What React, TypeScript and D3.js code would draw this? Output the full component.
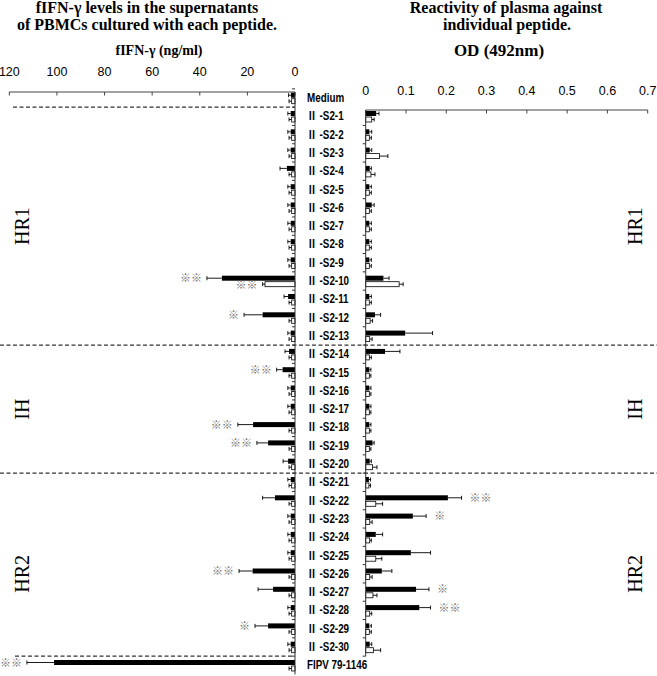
import React from "react";
import * as d3 from "d3";

const categories = [
  "Medium",
  "Ⅱ -S2-1", "Ⅱ -S2-2", "Ⅱ -S2-3", "Ⅱ -S2-4", "Ⅱ -S2-5", "Ⅱ -S2-6", "Ⅱ -S2-7", "Ⅱ -S2-8", "Ⅱ -S2-9", "Ⅱ -S2-10",
  "Ⅱ -S2-11", "Ⅱ -S2-12", "Ⅱ -S2-13", "Ⅱ -S2-14", "Ⅱ -S2-15", "Ⅱ -S2-16", "Ⅱ -S2-17", "Ⅱ -S2-18", "Ⅱ -S2-19", "Ⅱ -S2-20",
  "Ⅱ -S2-21", "Ⅱ -S2-22", "Ⅱ -S2-23", "Ⅱ -S2-24", "Ⅱ -S2-25", "Ⅱ -S2-26", "Ⅱ -S2-27", "Ⅱ -S2-28", "Ⅱ -S2-29", "Ⅱ -S2-30",
  "FIPV 79-1146",
];

// fIFN-γ (ng/ml): black = series 1, white = series 2 (mean and SD), Medium .. FIPV
const ifnBlack = [1.7, 1.8, 1.8, 1.8, 3.4, 1.8, 1.8, 1.8, 1.8, 1.8, 30.7, 2.9, 13.6, 1.8, 2.5, 5.2, 1.8, 1.8, 17.6, 11.3, 2.9, 1.8, 8.4, 1.8, 1.8, 1.8, 17.8, 9.2, 1.8, 11.3, 1.8, 101.2];
const ifnBlackSd = [1.0, 1.2, 1.2, 1.2, 2.9, 1.2, 1.2, 1.2, 1.2, 1.2, 6.3, 1.7, 7.8, 1.2, 1.7, 2.5, 1.2, 1.2, 6.4, 4.7, 2.1, 1.2, 5.2, 1.2, 1.2, 1.2, 5.7, 6.3, 1.2, 5.5, 1.2, 11.4];
const ifnWhite = [1.4, 1.4, 1.4, 1.4, 1.4, 1.4, 1.4, 1.4, 1.4, 1.4, 12.6, 1.4, 1.4, 1.4, 1.4, 1.4, 1.4, 1.4, 1.4, 1.4, 1.4, 1.4, 1.4, 1.4, 1.4, 1.4, 1.4, 1.4, 1.4, 1.4, 1.4, 1.4];
const ifnWhiteSd = [1.1, 1.1, 1.1, 1.1, 1.1, 1.1, 1.1, 1.1, 1.1, 1.1, 1.0, 1.1, 1.1, 1.1, 1.1, 1.1, 1.1, 1.1, 1.1, 1.1, 1.1, 1.1, 1.1, 1.1, 1.1, 1.1, 1.1, 1.1, 1.1, 1.1, 1.1, 1.1];
const ifnBlackSig = ["", "", "", "", "", "", "", "", "", "", "※※", "", "※", "", "", "※※", "", "", "※※", "※※", "", "", "", "", "", "", "※※", "", "", "※", "", "※※"];
const ifnWhiteSig = ["", "", "", "", "", "", "", "", "", "", "※※", "", "", "", "", "", "", "", "", "", "", "", "", "", "", "", "", "", "", "", "", ""];

// OD (492nm): Ⅱ-S2-1 .. Ⅱ-S2-30
const odBlack = [0.026, 0.009, 0.010, 0.010, 0.009, 0.015, 0.009, 0.009, 0.009, 0.044, 0.009, 0.023, 0.098, 0.048, 0.009, 0.009, 0.009, 0.009, 0.017, 0.010, 0.008, 0.204, 0.117, 0.025, 0.112, 0.040, 0.125, 0.133, 0.009, 0.010];
const odBlackSd = [0.007, 0.006, 0.005, 0.004, 0.005, 0.006, 0.005, 0.005, 0.005, 0.014, 0.005, 0.014, 0.068, 0.037, 0.004, 0.004, 0.004, 0.004, 0.004, 0.004, 0.004, 0.034, 0.033, 0.017, 0.049, 0.025, 0.032, 0.028, 0.005, 0.005];
const odWhite = [0.015, 0.009, 0.034, 0.013, 0.009, 0.009, 0.009, 0.009, 0.009, 0.083, 0.009, 0.011, 0.010, 0.009, 0.009, 0.009, 0.009, 0.009, 0.009, 0.017, 0.008, 0.025, 0.010, 0.010, 0.025, 0.010, 0.018, 0.010, 0.009, 0.019];
const odWhiteSd = [0.006, 0.005, 0.021, 0.010, 0.005, 0.005, 0.005, 0.005, 0.005, 0.010, 0.005, 0.006, 0.006, 0.005, 0.004, 0.004, 0.004, 0.004, 0.004, 0.011, 0.004, 0.017, 0.006, 0.004, 0.015, 0.006, 0.010, 0.005, 0.005, 0.018];
const odBlackSig = ["", "", "", "", "", "", "", "", "", "", "", "", "", "", "", "", "", "", "", "", "", "※※", "※", "", "", "", "※", "※※", "", ""];

const ifnTicks = [0, 20, 40, 60, 80, 100, 120];
const odTicks = [0, 0.1, 0.2, 0.3, 0.4, 0.5, 0.6, 0.7];

const regions = [
  { name: "HR1", from: "Ⅱ -S2-1", to: "Ⅱ -S2-13" },
  { name: "IH", from: "Ⅱ -S2-14", to: "Ⅱ -S2-20" },
  { name: "HR2", from: "Ⅱ -S2-21", to: "FIPV 79-1146" },
];

const W = 657;
const H = 676;
const SERIF = "'Liberation Serif', 'Times New Roman', serif";
const SANS = "'Liberation Sans', Arial, sans-serif";
const CJK = "'Noto Sans CJK JP', sans-serif";

export default function App() {
  const y = d3.scaleBand<string>().domain(categories).range([88.85, 674.45]).padding(0);
  const bw = y.bandwidth();
  const cy = (c: string) => (y(c) as number) + bw / 2;
  const xL = d3.scaleLinear().domain([0, 120]).range([295, 9.3]);
  const xR = d3.scaleLinear().domain([0, 0.7]).range([365.7, 647.7]);
  const odCats = categories.slice(1, 31);
  const barH = 5;
  const capH = 4;
  const fmtOd = (d: number) => (d === 0 ? "0" : d3.format(".1f")(d));

  const dash = "4,2.5";
  const boundary = (c: string) => y(c) as number;

  const errLeft = (x0: number, x1: number, yy: number, key: string) => (
    <g key={key} stroke="#000" strokeWidth={0.9}>
      <line x1={x0} x2={x1} y1={yy} y2={yy} />
      <line x1={x1} x2={x1} y1={yy - capH / 2} y2={yy + capH / 2} />
    </g>
  );

  const renderLabel = (c: string) => {
    if (c.startsWith("Ⅱ")) {
      return (
        <>
          <tspan fontFamily={CJK} fontWeight="bold">Ⅱ</tspan>
          <tspan>{c.slice(1)}</tspan>
        </>
      );
    }
    return c;
  };

  return (
    <svg width={W} height={H} style={{ position: "absolute", left: 0, top: 0, background: "#fff" }}>
      <rect x={0} y={0} width={W} height={H} fill="#fff" />
      {/* Titles */}
      <g fontFamily={SERIF} fontWeight="bold" textAnchor="middle" fill="#000">
        <text x={147} y={13} fontSize={16}>fIFN-γ levels in the supernatants</text>
        <text x={147} y={30} fontSize={16}>of PBMCs cultured with each peptide.</text>
        <text x={159} y={55} fontSize={14}>fIFN-γ (ng/ml)</text>
        <text x={506} y={13} fontSize={16}>Reactivity of plasma against</text>
        <text x={507} y={30} fontSize={16}>individual peptide.</text>
        <text x={499} y={56} fontSize={17}>OD (492nm)</text>
      </g>

      {/* Top axes */}
      <g fontFamily={SANS} fontSize={12.5} textAnchor="middle" fill="#000">
        {ifnTicks.map((t) => (
          <text key={"lt" + t} x={xL(t)} y={76}>{t}</text>
        ))}
        {odTicks.map((t) => (
          <text key={"rt" + t} x={xR(t)} y={95}>{fmtOd(t)}</text>
        ))}
      </g>
      <g stroke="#444" strokeWidth={1}>
        <line x1={xL(120)} x2={xL(0)} y1={92} y2={92} />
        {ifnTicks.map((t) => (
          <line key={"ltk" + t} x1={xL(t)} x2={xL(t)} y1={92} y2={95.5} />
        ))}
        <line x1={xR(0)} x2={xR(0.7)} y1={110} y2={110} />
        {odTicks.map((t) => (
          <line key={"rtk" + t} x1={xR(t)} x2={xR(t)} y1={110} y2={113.5} />
        ))}
      </g>

      {/* Dashed separators */}
      <g stroke="#333" strokeWidth={1.2} strokeDasharray={dash}>
        <line x1={13} x2={295} y1={boundary("Ⅱ -S2-1")} y2={boundary("Ⅱ -S2-1")} />
        <line x1={0} x2={W} y1={boundary("Ⅱ -S2-14")} y2={boundary("Ⅱ -S2-14")} />
        <line x1={0} x2={W} y1={boundary("Ⅱ -S2-21")} y2={boundary("Ⅱ -S2-21")} />
        <line x1={15} x2={295} y1={boundary("FIPV 79-1146")} y2={boundary("FIPV 79-1146")} />
      </g>

      {/* Left bars */}
      {categories.map((c, i) => {
        const c0 = cy(c);
        const bTop = c0 - barH - 0.3;
        const wTop = c0 + 0.7;
        const xb = xL(ifnBlack[i]);
        const xbe = xL(ifnBlack[i] + ifnBlackSd[i]);
        const xw = xL(ifnWhite[i]);
        const xwe = xL(ifnWhite[i] + ifnWhiteSd[i]);
        return (
          <g key={"lb" + i}>
            {errLeft(xb, xbe, bTop + barH / 2, "be" + i)}
            {errLeft(xw, xwe, wTop + barH / 2, "we" + i)}
            <rect x={xb} y={bTop} width={xL(0) - xb} height={barH} fill="#000" />
            <rect x={xw} y={wTop} width={xL(0) - xw} height={barH} fill="#fff" stroke="#000" strokeWidth={0.8} />
            {ifnBlackSig[i] && (
              <text x={xbe - 5} y={bTop + barH / 2 + 4} fontSize={11} textAnchor="end" fill="#707070" fontFamily={CJK}>{ifnBlackSig[i]}</text>
            )}
            {ifnWhiteSig[i] && (
              <text x={xwe - 5} y={wTop + barH / 2 + 5} fontSize={11} textAnchor="end" fill="#707070" fontFamily={CJK}>{ifnWhiteSig[i]}</text>
            )}
          </g>
        );
      })}

      {/* Right bars */}
      {odCats.map((c, i) => {
        const c0 = cy(c);
        const bTop = c0 - barH - 0.3;
        const wTop = c0 + 0.7;
        const xb = xR(odBlack[i]);
        const xbe = xR(odBlack[i] + odBlackSd[i]);
        const xw = xR(odWhite[i]);
        const xwe = xR(odWhite[i] + odWhiteSd[i]);
        return (
          <g key={"rb" + i}>
            {errLeft(xb, xbe, bTop + barH / 2, "rbe" + i)}
            {errLeft(xw, xwe, wTop + barH / 2, "rwe" + i)}
            <rect x={xR(0)} y={bTop} width={xb - xR(0)} height={barH} fill="#000" />
            <rect x={xR(0)} y={wTop} width={xw - xR(0)} height={barH} fill="#fff" stroke="#000" strokeWidth={0.8} />
            {odBlackSig[i] && (
              <text x={xbe + 8} y={bTop + barH / 2 + 4} fontSize={11} textAnchor="start" fill="#707070" fontFamily={CJK}>{odBlackSig[i]}</text>
            )}
          </g>
        );
      })}

      {/* Vertical axes with category ticks */}
      <g stroke="#333" strokeWidth={1}>
        <line x1={xL(0)} x2={xL(0)} y1={92} y2={674.45} />
        {categories.map((c, i) => (
          <line key={"lyt" + i} x1={xL(0) - 3} x2={xL(0)} y1={boundary(c)} y2={boundary(c)} />
        ))}
        <line x1={xR(0)} x2={xR(0)} y1={110} y2={(y(odCats[29]) as number) + bw} />
        {odCats.map((c, i) => (
          <line key={"ryt" + i} x1={xR(0) - 3} x2={xR(0)} y1={boundary(c) + bw} y2={boundary(c) + bw} />
        ))}
      </g>

      {/* Category labels */}
      <g fontFamily={SANS} fontWeight="bold" fontSize={12} fill="#000">
        {categories.map((c, i) => (
          <text key={"cl" + i} transform={`translate(307,${cy(c) + 4}) scale(0.82,1)`}>{renderLabel(c)}</text>
        ))}
      </g>

      {/* Region labels */}
      <g fontFamily={SERIF} fontSize={20} fill="#000" textAnchor="middle">
        {regions.map((r) => {
          const y0 = boundary(r.from);
          const y1 = (y(r.to) as number) + bw;
          const ym = (y0 + y1) / 2;
          return (
            <g key={r.name}>
              <text transform={`translate(29,${ym}) rotate(-90)`}>{r.name}</text>
              <text transform={`translate(642,${ym}) rotate(-90)`}>{r.name}</text>
            </g>
          );
        })}
      </g>
    </svg>
  );
}
